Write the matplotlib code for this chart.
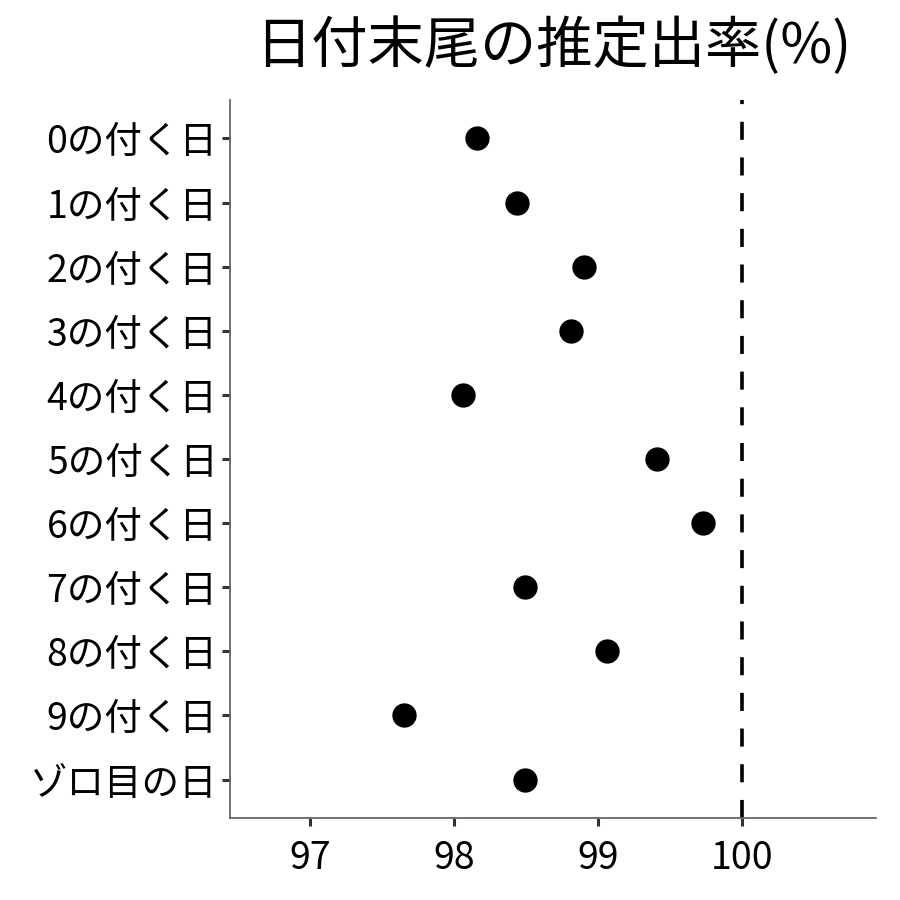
import matplotlib
matplotlib.use("Agg")
import matplotlib.pyplot as plt

plt.rcParams['font.family'] = ['Noto Sans CJK JP', 'DejaVu Sans']

categories = ["0の付く日", "1の付く日", "2の付く日", "3の付く日", "4の付く日",
              "5の付く日", "6の付く日", "7の付く日", "8の付く日", "9の付く日", "ゾロ目の日"]
values = [98.16, 98.44, 98.90, 98.81, 98.06, 99.41, 99.73, 98.49, 99.06, 97.65, 98.49]
x_ticks = [97, 98, 99, 100]
ref_value = 100
title = "日付末尾の推定出率(%)"

fig = plt.figure(figsize=(9, 9), dpi=100)
ax = fig.add_axes([230/900, 82/900, (876-230)/900, (818-100)/900])

ypos = list(range(len(categories)))
ax.axvline(ref_value, color='black', linewidth=2.6, linestyle=(0, (13/2.6, 12.7/2.6)), zorder=1)
ax.plot(values, ypos, 'o', color='black', markersize=16.5, zorder=3)

ax.set_xlim(96.444, 100.93)
ax.set_ylim(len(categories) - 0.4, -0.6)
ax.set_yticks(ypos)
ax.set_yticklabels(categories, fontsize=27)
ax.set_xticks(x_ticks)
ax.set_xticklabels([str(t) for t in x_ticks], fontsize=27)

for s in ['top', 'right']:
    ax.spines[s].set_visible(False)
for s in ['left', 'bottom']:
    ax.spines[s].set_color('#666666')
    ax.spines[s].set_linewidth(1.3)
ax.tick_params(axis='both', length=6, width=2.2, color='#333333', pad=3, labelcolor='black')
ax.tick_params(axis='x', pad=9)

fig.suptitle(title, fontsize=40.5, x=(262+845)/2/900, y=0.98, va='top')

fig.savefig("out.png", dpi=100, facecolor='white')
